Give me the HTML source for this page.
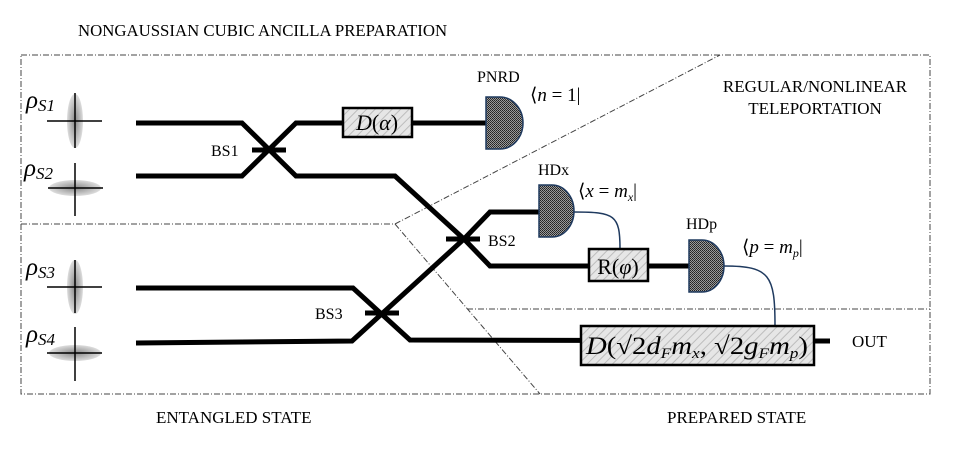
<!DOCTYPE html>
<html><head><meta charset="utf-8"><style>
html,body{margin:0;padding:0;background:#fff;}
svg{display:block;}
text{font-family:"Liberation Serif",serif;fill:#000;}
.it{font-style:italic;}
</style></head><body>
<svg width="960" height="450" viewBox="0 0 960 450" xmlns="http://www.w3.org/2000/svg">
<defs>
<pattern id="hat" width="6" height="6" patternUnits="userSpaceOnUse" patternTransform="rotate(45)">
<rect width="6" height="6" fill="#e6e6e6"/><line x1="0" y1="0" x2="0" y2="6" stroke="#bdbdbd" stroke-width="2"/>
</pattern>
<pattern id="dot" width="2" height="2" patternUnits="userSpaceOnUse">
<rect width="2" height="2" fill="#9a9a9a"/><rect width="1" height="1" fill="#222"/><rect x="1" y="1" width="1" height="1" fill="#333"/>
</pattern>
<radialGradient id="g" cx="0.5" cy="0.5" r="0.5">
<stop offset="0" stop-color="#888"/><stop offset="1" stop-color="#ddd"/>
</radialGradient>
</defs>
<g fill="none" stroke="#444" stroke-width="1" stroke-dasharray="6,2,1,2">
<rect x="21" y="55" width="909" height="339"/>
<polyline points="21,224 395,224 720,55"/>
<line x1="395" y1="224" x2="540" y2="394"/>
<line x1="467" y1="309" x2="930" y2="309"/>
</g>
<g fill="url(#g)">
<ellipse cx="75" cy="121" rx="8" ry="27"/>
<ellipse cx="75" cy="188" rx="26" ry="8"/>
<ellipse cx="75" cy="287" rx="8" ry="27"/>
<ellipse cx="75" cy="353" rx="26" ry="8"/>
</g>
<g stroke="#000" stroke-width="1.5">
<line x1="47" y1="121" x2="102" y2="121"/><line x1="75" y1="93" x2="75" y2="148"/>
<line x1="48" y1="188" x2="103" y2="188"/><line x1="75" y1="163" x2="75" y2="216"/>
<line x1="47" y1="287" x2="102" y2="287"/><line x1="75" y1="260" x2="75" y2="313"/>
<line x1="47" y1="353" x2="102" y2="353"/><line x1="75" y1="327" x2="75" y2="381"/>
</g>
<g fill="none" stroke="#000" stroke-width="5" stroke-linejoin="miter">
<polyline points="136,123 242,123 296,176 395,176 464,239 490,266 690,266"/>
<polyline points="136,176 242,176 296,123 490,123"/>
<polyline points="136,288 353,288 410,340 820,341"/>
<polyline points="136,343 352,341 464,239 490,212 540,212"/>
<line x1="252" y1="150" x2="286" y2="150"/>
<line x1="446" y1="239" x2="480" y2="239"/>
<line x1="365" y1="313" x2="399" y2="313"/>
<line x1="810" y1="341" x2="830" y2="341"/>
</g>
<g fill="none" stroke="#1f3a5f" stroke-width="1.5">
<path d="M574,212 C615,212 620,215 620,249"/>
<path d="M724,266 C770,266 775,275 775,326"/>
</g>
<g stroke="#000" stroke-width="2.5" fill="url(#hat)">
<rect x="343" y="108" width="69" height="29"/>
<rect x="589" y="249" width="59" height="32"/>
<rect x="581" y="326" width="233" height="39"/>
</g>
<g fill="url(#dot)" stroke="#1f3a5f" stroke-width="1.5">
<path d="M486,97 L500,97 A23,26 0 0 1 500,149 L486,149 Z"/>
<path d="M539,185 L552,185 A22,26 0 0 1 552,237 L539,237 Z"/>
<path d="M689,240 L702,240 A22,26 0 0 1 702,292 L689,292 Z"/>
</g>
<text x="78" y="36" font-size="16.8">NONGAUSSIAN CUBIC ANCILLA PREPARATION</text>
<text x="156" y="423" font-size="17">ENTANGLED STATE</text>
<text x="667" y="423" font-size="17">PREPARED STATE</text>
<text x="815" y="92" font-size="17" text-anchor="middle">REGULAR/NONLINEAR</text>
<text x="815" y="114" font-size="17" text-anchor="middle">TELEPORTATION</text>
<text x="852" y="347" font-size="17">OUT</text>
<text x="211" y="156" font-size="16">BS1</text>
<text x="488" y="246" font-size="16">BS2</text>
<text x="315" y="319" font-size="16">BS3</text>
<text x="477" y="82" font-size="16">PNRD</text>
<text x="538" y="175" font-size="16">HDx</text>
<text x="686" y="229" font-size="16">HDp</text>
<text x="530" y="101" font-size="19">⟨<tspan class="it">n</tspan> = 1|</text>
<text x="578" y="197" font-size="19">⟨<tspan class="it">x</tspan> = <tspan class="it">m</tspan><tspan class="it" font-size="12" dy="4">x</tspan><tspan dy="-4">|</tspan></text>
<text x="742" y="253" font-size="19">⟨<tspan class="it">p</tspan> = <tspan class="it">m</tspan><tspan class="it" font-size="12" dy="4">p</tspan><tspan dy="-4">|</tspan></text>
<text x="377" y="130" font-size="22" text-anchor="middle"><tspan class="it">D</tspan>(<tspan class="it">α</tspan>)</text>
<text x="618" y="274" font-size="22" text-anchor="middle" font-family="Liberation Sans">R(<tspan class="it" font-family="Liberation Serif">φ</tspan>)</text>
<text x="697" y="354" font-size="25" text-anchor="middle" textLength="222" lengthAdjust="spacingAndGlyphs"><tspan class="it">D</tspan>(√2<tspan class="it">d</tspan><tspan class="it" font-size="15" dy="4">F</tspan><tspan class="it" dy="-4">m</tspan><tspan class="it" font-size="15" dy="4">x</tspan><tspan dy="-4">, √2</tspan><tspan class="it">g</tspan><tspan class="it" font-size="15" dy="4">F</tspan><tspan class="it" dy="-4">m</tspan><tspan class="it" font-size="15" dy="4">p</tspan><tspan dy="-4">)</tspan></text>
<g font-size="25">
<text x="26" y="108" class="it">ρ<tspan font-size="17" dy="3">S1</tspan></text>
<text x="24" y="176" class="it">ρ<tspan font-size="17" dy="3">S2</tspan></text>
<text x="26" y="275" class="it">ρ<tspan font-size="17" dy="3">S3</tspan></text>
<text x="26" y="342" class="it">ρ<tspan font-size="17" dy="3">S4</tspan></text>
</g>
</svg>
</body></html>
